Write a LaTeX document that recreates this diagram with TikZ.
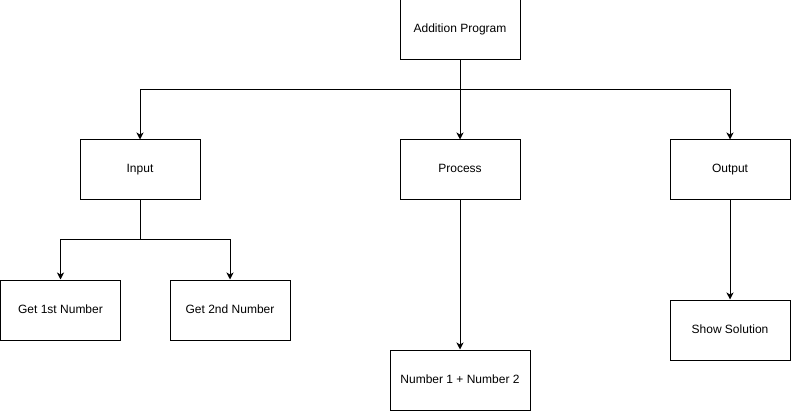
\documentclass[tikz,border=0pt]{standalone}
\usepackage{xcolor}
\usepackage{fontspec}
\setmainfont{Liberation Sans}
\usetikzlibrary{arrows.meta}

\begin{document}
\begin{tikzpicture}[x=1pt,y=-1pt]
			\tikzstyle{block} = [draw, line width=1pt, minimum width=120pt, minimum height=60pt, inner sep=0pt, text height=9pt, text depth=3pt, font=\fontsize{12}{14}\selectfont]
			\tikzset{edge/.style = {line width=1pt, -{Stealth[length=7pt,width=7pt,inset=2pt]}}}
			\useasboundingbox (0,0) rectangle (791,411);
			
			\node[block](program) at (460,30) {Addition Program};
			\node[block](input) at (140,170) {Input};
			\node[block](process) at (460,170) {Process};
			\node[block](output) at (730,170) {Output};
			
			\coordinate (split1) at (460,90);
			\draw[edge](program) -- (split1) -| (input);
			\draw[edge](split1) -| (output);
			\draw[edge](program) -- (process);
			
			\node[block](first) at (60.5,310) {Get 1st Number};
			\node[block](second) at (230,310) {Get 2nd Number};
			\coordinate (split2) at (140,240);
			\draw[edge](input) -- (split2) -| (first);
			\draw[edge](split2) -| (second);
			
			\node[block, minimum width=140pt](sum) at (460,380) {Number 1 + Number 2};
			\draw[edge](process) -- (sum);
			
			\node[block](show) at (730,330) {Show Solution};
			\draw[edge](output) -- (show);
			
			\end{tikzpicture}
\end{document}
